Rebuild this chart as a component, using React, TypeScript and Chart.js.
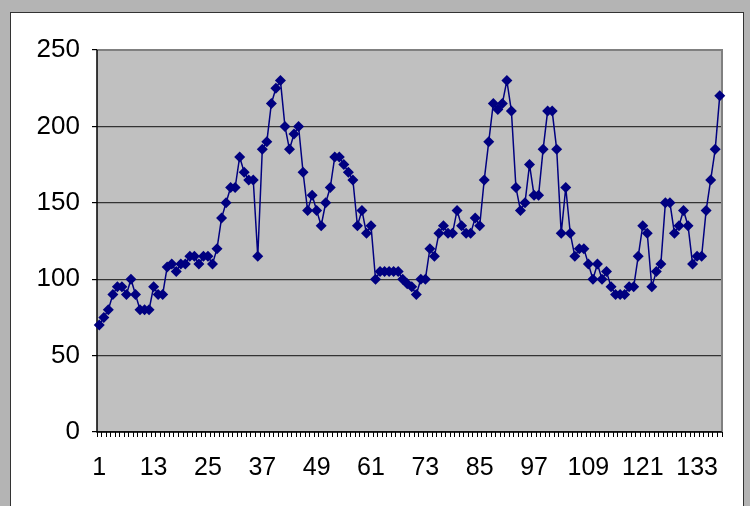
import React, { useEffect, useRef } from "react";
import { Chart, registerables } from "chart.js";

Chart.register(...registerables);

// Series values, one per period (1..138)
const seriesValues: number[] = [
  70, 75, 80, 90, 95, 95, 90, 100, 90, 80,
  80, 80, 95, 90, 90, 108, 110, 105, 110, 110,
  115, 115, 110, 115, 115, 110, 120, 140, 150, 160,
  160, 180, 170, 165, 165, 115, 185, 190, 215, 225,
  230, 200, 185, 195, 200, 170, 145, 155, 145, 135,
  150, 160, 180, 180, 175, 170, 165, 135, 145, 130,
  135, 100, 105, 105, 105, 105, 105, 100, 97, 95,
  90, 100, 100, 120, 115, 130, 135, 130, 130, 145,
  135, 130, 130, 140, 135, 165, 190, 215, 211, 215,
  230, 210, 160, 145, 150, 175, 155, 155, 185, 210,
  210, 185, 130, 160, 130, 115, 120, 120, 110, 100,
  110, 100, 105, 95, 90, 90, 90, 95, 95, 115,
  135, 130, 95, 105, 110, 150, 150, 130, 135, 145,
  135, 110, 115, 115, 145, 165, 185, 220,
];

// Category labels 1..N
const categories: string[] = seriesValues.map((_, i) => String(i + 1));

// Axis settings
const yTicks: number[] = [0, 50, 100, 150, 200, 250];
const xLabelStep = 12;

export default function App() {
  const canvasRef = useRef<HTMLCanvasElement | null>(null);

  useEffect(() => {
    const canvas = canvasRef.current;
    if (!canvas) return;

    const plotBg = {
      id: "plotBg",
      beforeDraw(chart: any) {
        const { ctx, chartArea } = chart;
        ctx.save();
        ctx.fillStyle = "#c0c0c0";
        ctx.fillRect(chartArea.left, chartArea.top, chartArea.right - chartArea.left, chartArea.bottom - chartArea.top);
        ctx.restore();
      },
      beforeDatasetsDraw(chart: any) {
        const { ctx, chartArea } = chart;
        ctx.save();
        ctx.strokeStyle = "#808080";
        ctx.lineWidth = 2;
        ctx.beginPath();
        ctx.moveTo(chartArea.left, chartArea.top);
        ctx.lineTo(chartArea.right, chartArea.top);
        ctx.lineTo(chartArea.right, chartArea.bottom);
        ctx.stroke();
        ctx.strokeStyle = "#000";
        ctx.lineWidth = 1.5;
        ctx.beginPath();
        ctx.moveTo(chartArea.left, chartArea.top);
        ctx.lineTo(chartArea.left, chartArea.bottom);
        ctx.lineTo(chartArea.right, chartArea.bottom);
        ctx.stroke();
        ctx.restore();
      },
    };

    const chart = new Chart(canvas, {
      type: "line",
      data: {
        labels: categories,
        datasets: [
          {
            data: seriesValues,
            borderColor: "#000080",
            backgroundColor: "#000080",
            borderWidth: 1.5,
            pointStyle: "rectRot",
            pointRadius: 5.5,
            pointBorderWidth: 0,
            pointBackgroundColor: "#000080",
            tension: 0,
          },
        ],
      },
      options: {
        responsive: false,
        animation: false,
        layout: { padding: { left: 10, top: 50, right: 28, bottom: 0 } },
        plugins: { legend: { display: false }, tooltip: { enabled: false } },
        scales: {
          x: {
            type: "category",
            offset: true,
            grid: {
              offset: true,
              drawOnChartArea: false,
              drawTicks: true,
              tickLength: 5,
              color: "#000",
              lineWidth: 1,
            },
            border: { display: false },
            ticks: {
              autoSkip: false,
              maxRotation: 0,
              minRotation: 0,
              padding: 16,
              color: "#000",
              font: { family: "'Liberation Sans', Arial, sans-serif", size: 25 },
              callback: (_v: any, index: number) => (index % xLabelStep === 0 ? categories[index] : ""),
            },
            afterFit: (scale: any) => {
              scale.height = 74;
            },
          },
          y: {
            min: 0,
            max: 250,
            afterBuildTicks: (scale: any) => {
              scale.ticks = yTicks.map((v) => ({ value: v }));
            },
            grid: {
              color: "#333",
              lineWidth: 1.2,
              drawTicks: true,
              tickLength: 5,
              tickColor: "#000",
            },
            border: { display: false },
            ticks: {
              padding: 12,
              color: "#000",
              font: { family: "'Liberation Sans', Arial, sans-serif", size: 26 },
            },
            afterFit: (scale: any) => {
              scale.width = 87;
            },
          },
        },
      },
      plugins: [plotBg],
    });

    return () => chart.destroy();
  }, []);

  return (
    <div
      style={{
        position: "absolute",
        left: 0,
        top: 0,
        width: 750,
        height: 506,
        background: "#b4b4b4",
        overflow: "hidden",
      }}
    >
      <div
        style={{
          position: "absolute",
          left: 10,
          top: 12,
          width: 732,
          height: 520,
          background: "#fff",
          border: "1px solid #333",
        }}
      />
      <canvas
        ref={canvasRef}
        width={750}
        height={506}
        style={{ position: "absolute", left: 0, top: 0, width: 750, height: 506 }}
      />
    </div>
  );
}
